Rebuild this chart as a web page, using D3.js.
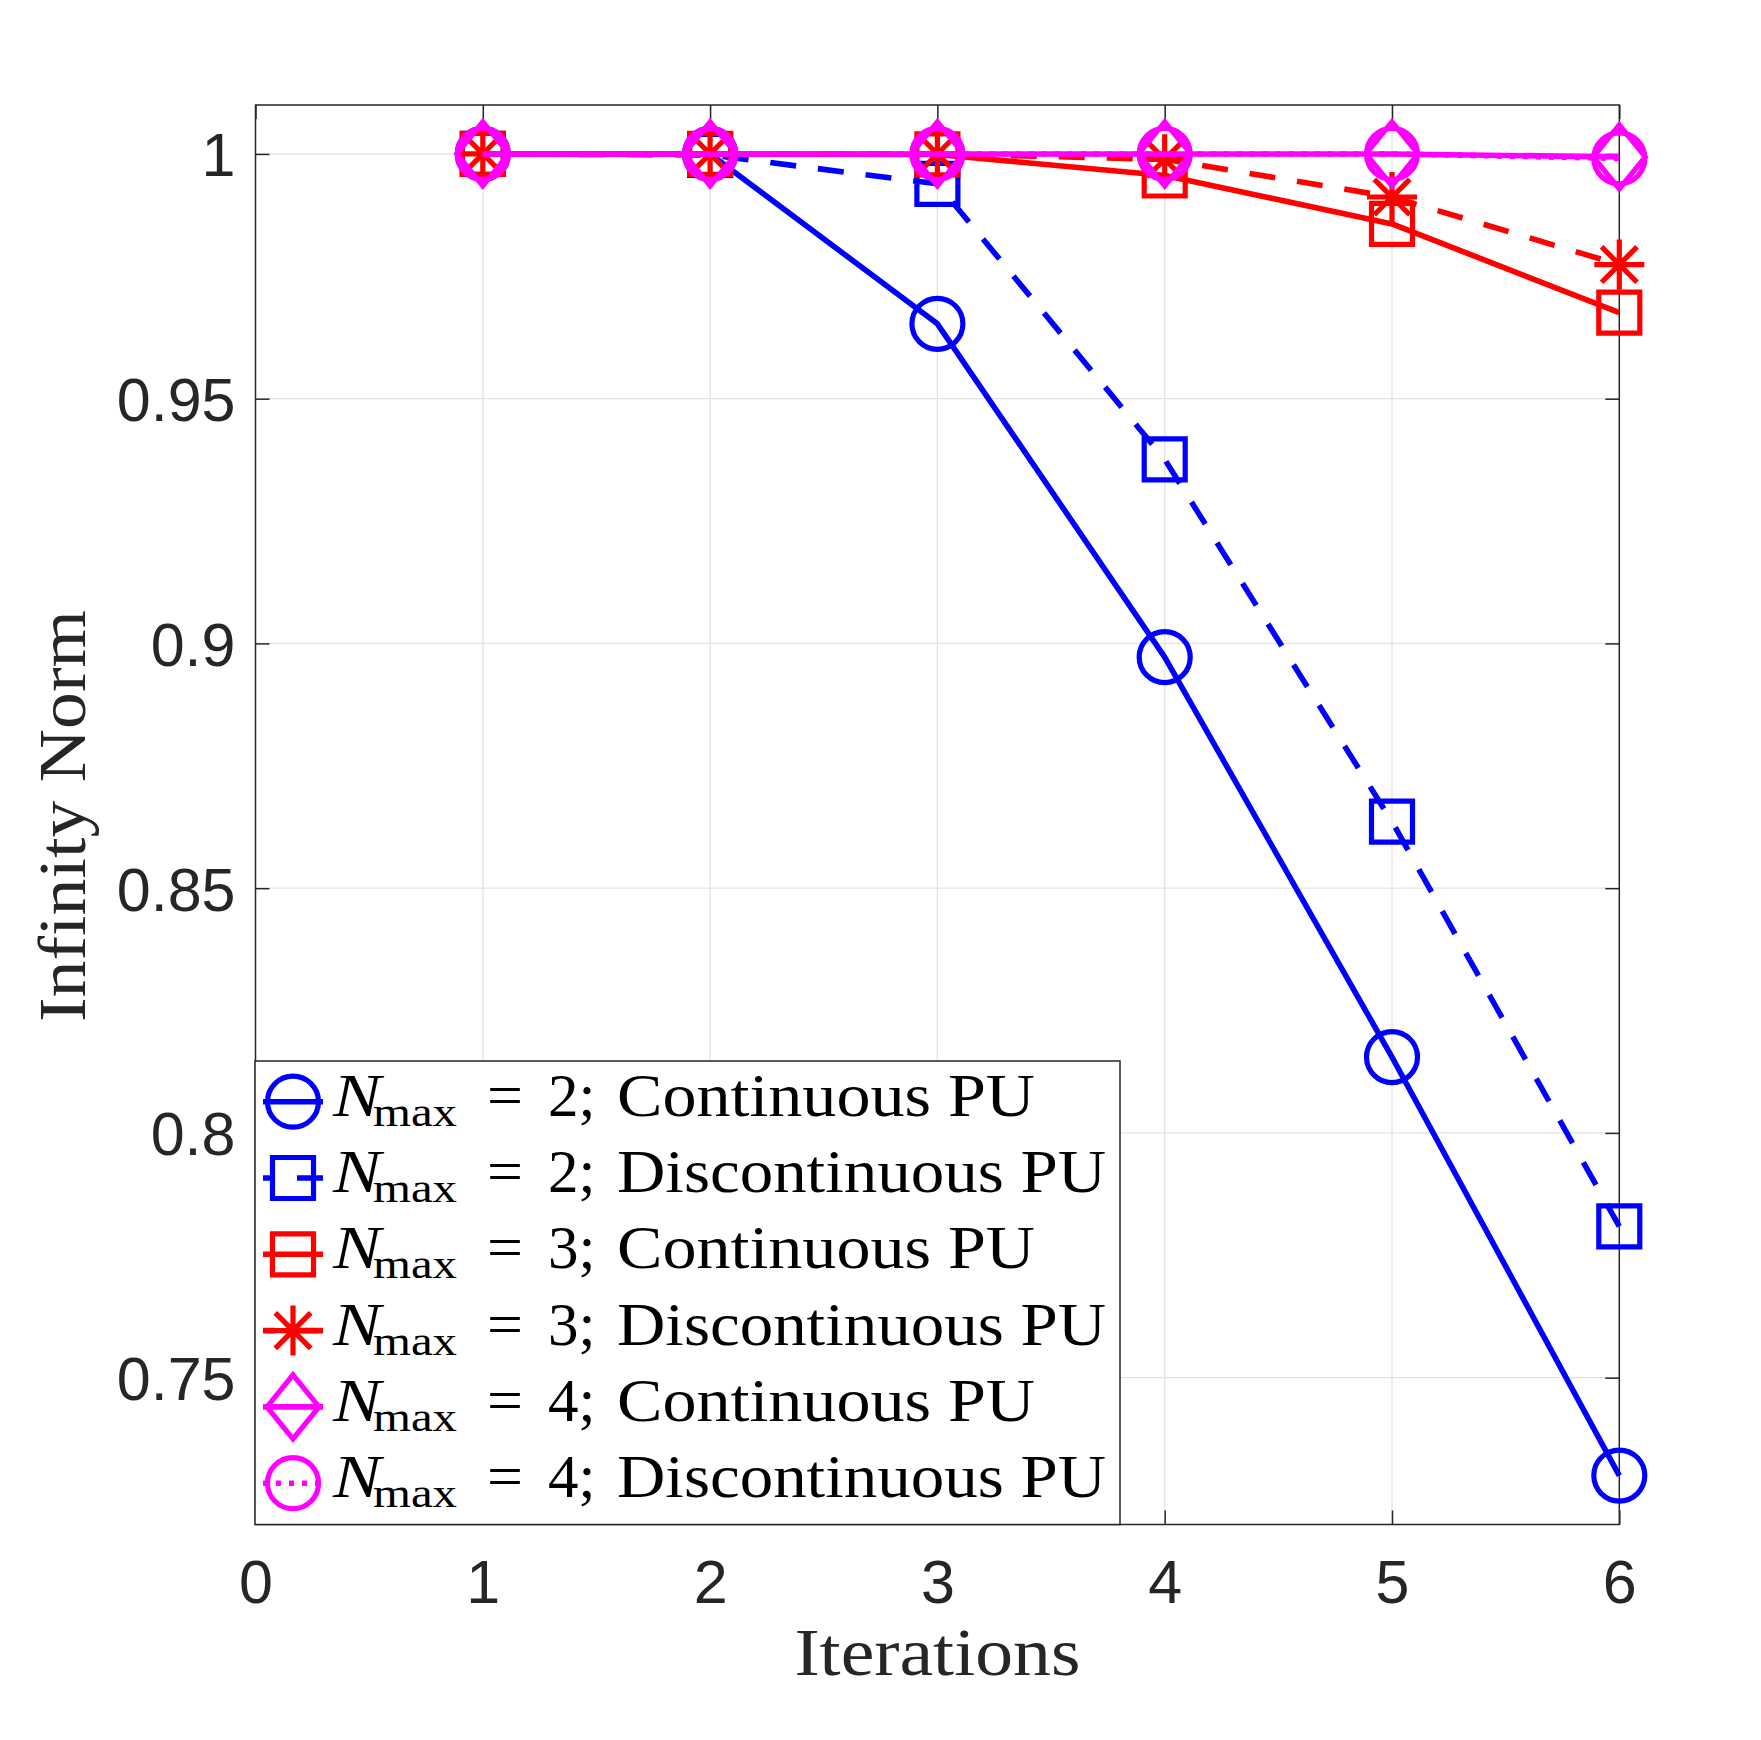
<!DOCTYPE html>
<html>
<head>
<meta charset="utf-8">
<script src="https://cdn.jsdelivr.net/npm/d3@7"></script>
<style>
  html, body { margin: 0; padding: 0; background: #fff; }
</style>
</head>
<body>
<div id="chart"></div>
<script>
// data
const iterations = [1, 2, 3, 4, 5, 6];
const nmax2Continuous    = [1, 1, 0.9653, 0.8972, 0.8155, 0.7300];
const nmax2Discontinuous = [1, 0.9998, 0.9939, 0.9376, 0.8636, 0.7809];
const nmax3Continuous    = [1, 1, 0.9999, 0.9956, 0.9857, 0.9676];
const nmax3Discontinuous = [1, 1, 1, 0.9989, 0.9912, 0.9774];
const nmax4Continuous    = [1, 1, 1, 1, 1, 0.9994];
const nmax4Discontinuous = [1, 1, 1, 1, 1, 0.9991];

const xTicks = [0, 1, 2, 3, 4, 5, 6];
const yTicks = [0.75, 0.8, 0.85, 0.9, 0.95, 1];
const legendN = [2, 2, 3, 3, 4, 4];
const legendPU = ['Continuous PU', 'Discontinuous PU', 'Continuous PU',
                  'Discontinuous PU', 'Continuous PU', 'Discontinuous PU'];

const series = [
  { values: nmax2Continuous,    color: '#0000ff', dash: null,    marker: 'circle' },
  { values: nmax2Discontinuous, color: '#0000ff', dash: '26,22', marker: 'square' },
  { values: nmax3Continuous,    color: '#ff0000', dash: null,    marker: 'square' },
  { values: nmax3Discontinuous, color: '#ff0000', dash: '26,22', marker: 'star' },
  { values: nmax4Continuous,    color: '#ff00ff', dash: null,    marker: 'diamond' },
  { values: nmax4Discontinuous, color: '#ff00ff', dash: '5,8',   marker: 'circle' }
];

const W = 1761, H = 1740;
const plot = { left: 255.5, right: 1619.3, top: 105, bottom: 1524.5 };
const axisColor = '#262626';
const lineW = 5.6, markerW = 5.2;

const svg = d3.select('#chart')
  .append('svg')
    .attr('width', W)
    .attr('height', H);

svg.append('rect').attr('width', W).attr('height', H).attr('fill', '#fff');

const x = d3.scaleLinear().domain([0, 6]).range([plot.left, plot.right]);
const y = d3.scaleLinear().domain([0.72, 1.01]).range([plot.bottom, plot.top]);

// grid
const grid = svg.append('g').attr('stroke', '#e3e3e3').attr('stroke-width', 1.3);
grid.selectAll('.gx').data(xTicks.slice(1, -1)).join('line')
  .attr('x1', d => x(d)).attr('x2', d => x(d))
  .attr('y1', plot.top).attr('y2', plot.bottom);
grid.selectAll('.gy').data(yTicks).join('line')
  .attr('x1', plot.left).attr('x2', plot.right)
  .attr('y1', d => y(d)).attr('y2', d => y(d));

// axes (ticks drawn inside like matlab)
const tickLen = 14;
const xAxis = svg.append('g')
  .attr('transform', `translate(0,${plot.bottom})`)
  .call(d3.axisBottom(x).tickValues(xTicks).tickFormat(d => d)
    .tickSizeInner(-tickLen).tickSizeOuter(0).tickPadding(35));
const xTop = svg.append('g')
  .attr('transform', `translate(0,${plot.top})`)
  .call(d3.axisTop(x).tickValues(xTicks).tickFormat('')
    .tickSizeInner(-tickLen).tickSizeOuter(0));
const yAxis = svg.append('g')
  .attr('transform', `translate(${plot.left},0)`)
  .call(d3.axisLeft(y).tickValues(yTicks).tickFormat(d => d)
    .tickSizeInner(-tickLen).tickSizeOuter(0).tickPadding(20));
const yRight = svg.append('g')
  .attr('transform', `translate(${plot.right},0)`)
  .call(d3.axisRight(y).tickValues(yTicks).tickFormat('')
    .tickSizeInner(-tickLen).tickSizeOuter(0));

[xAxis, xTop, yAxis, yRight].forEach(g => {
  g.select('.domain').remove();
  g.selectAll('line').attr('stroke', axisColor).attr('stroke-width', 1.5);
  g.selectAll('text')
    .attr('fill', axisColor)
    .style('font-family', '"Liberation Sans", Arial, Helvetica, sans-serif')
    .style('font-size', '61px');
});
yAxis.selectAll('text').attr('dy', '0.36em');

// box
svg.append('rect')
  .attr('x', plot.left).attr('y', plot.top)
  .attr('width', plot.right - plot.left).attr('height', plot.bottom - plot.top)
  .attr('fill', 'none').attr('stroke', axisColor).attr('stroke-width', 1.5);

// markers
function markerPath(type) {
  if (type === 'square') return 'M-20.5,-20.5h41v41h-41Z';
  if (type === 'diamond') return 'M0,-32L26,0L0,32L-26,0Z';
  if (type === 'star') return 'M0,-25V25M-25,0H25M-17.7,-17.7L17.7,17.7M-17.7,17.7L17.7,-17.7';
  return d3.symbol(d3.symbolCircle, Math.PI * 25.5 * 25.5)();
}

const line = d3.line()
  .x((d, i) => x(iterations[i]))
  .y(d => y(d));

series.forEach(s => {
  const g = svg.append('g');
  g.append('path')
    .datum(s.values)
    .attr('d', line)
    .attr('fill', 'none')
    .attr('stroke', s.color)
    .attr('stroke-width', lineW)
    .attr('stroke-linejoin', 'round')
    .attr('stroke-dasharray', s.dash);
  g.selectAll('.m').data(s.values).join('path')
    .attr('transform', (d, i) => `translate(${x(iterations[i])},${y(d)})`)
    .attr('d', markerPath(s.marker))
    .attr('fill', 'none')
    .attr('stroke', s.color)
    .attr('stroke-width', markerW);
});

// legend
const lg = { left: 255, top: 1061, right: 1120, bottom: 1524.5, rowH: 76.3, firstRow: 1101.7 };
svg.append('rect')
  .attr('x', lg.left).attr('y', lg.top)
  .attr('width', lg.right - lg.left).attr('height', lg.bottom - lg.top)
  .attr('fill', '#fff').attr('stroke', axisColor).attr('stroke-width', 1.5);

const serif = '"Liberation Serif", "Times New Roman", serif';
series.forEach((s, i) => {
  const cy = lg.firstRow + i * lg.rowH;
  const cx = lg.left + 38;
  svg.append('line')
    .attr('x1', cx - 30).attr('x2', cx + 30)
    .attr('y1', cy).attr('y2', cy)
    .attr('stroke', s.color).attr('stroke-width', lineW)
    .attr('stroke-dasharray', s.dash)
    .attr('stroke-dashoffset', s.dash ? (s.marker === 'circle' ? 0 : 14) : null);
  svg.append('path')
    .attr('transform', `translate(${cx},${cy})`)
    .attr('d', markerPath(s.marker))
    .attr('fill', 'none').attr('stroke', s.color).attr('stroke-width', markerW);

  const t = svg.append('text')
    .attr('fill', '#000')
    .style('font-family', serif)
    .style('font-size', '61px');
  const base = cy + 14;
  t.append('tspan').attr('x', lg.left + 78).attr('y', base)
    .style('font-style', 'italic')
    .attr('textLength', 48).attr('lengthAdjust', 'spacingAndGlyphs')
    .text('N');
  t.append('tspan').attr('x', lg.left + 118).attr('y', base + 10)
    .style('font-size', '43px')
    .attr('textLength', 84).attr('lengthAdjust', 'spacingAndGlyphs')
    .text('max');
  t.append('tspan').attr('x', lg.left + 232).attr('y', base)
    .attr('textLength', 36).attr('lengthAdjust', 'spacingAndGlyphs')
    .text('=');
  t.append('tspan').attr('x', lg.left + 293).attr('y', base).text(legendN[i] + ';');
  t.append('tspan').attr('x', lg.left + 362).attr('y', base)
    .attr('textLength', legendPU[i].length > 13 ? 489 : 418)
    .attr('lengthAdjust', 'spacingAndGlyphs')
    .text(legendPU[i]);
});

// axis labels
svg.append('text')
  .attr('x', (plot.left + plot.right) / 2).attr('y', 1675)
  .attr('text-anchor', 'middle')
  .attr('textLength', 286).attr('lengthAdjust', 'spacingAndGlyphs')
  .attr('fill', axisColor)
  .style('font-family', serif).style('font-size', '68px')
  .text('Iterations');

svg.append('text')
  .attr('transform', 'translate(85,816) rotate(-90)')
  .attr('text-anchor', 'middle')
  .attr('textLength', 412).attr('lengthAdjust', 'spacingAndGlyphs')
  .attr('fill', axisColor)
  .style('font-family', serif).style('font-size', '68px')
  .text('Infinity Norm');
</script>
</body>
</html>
